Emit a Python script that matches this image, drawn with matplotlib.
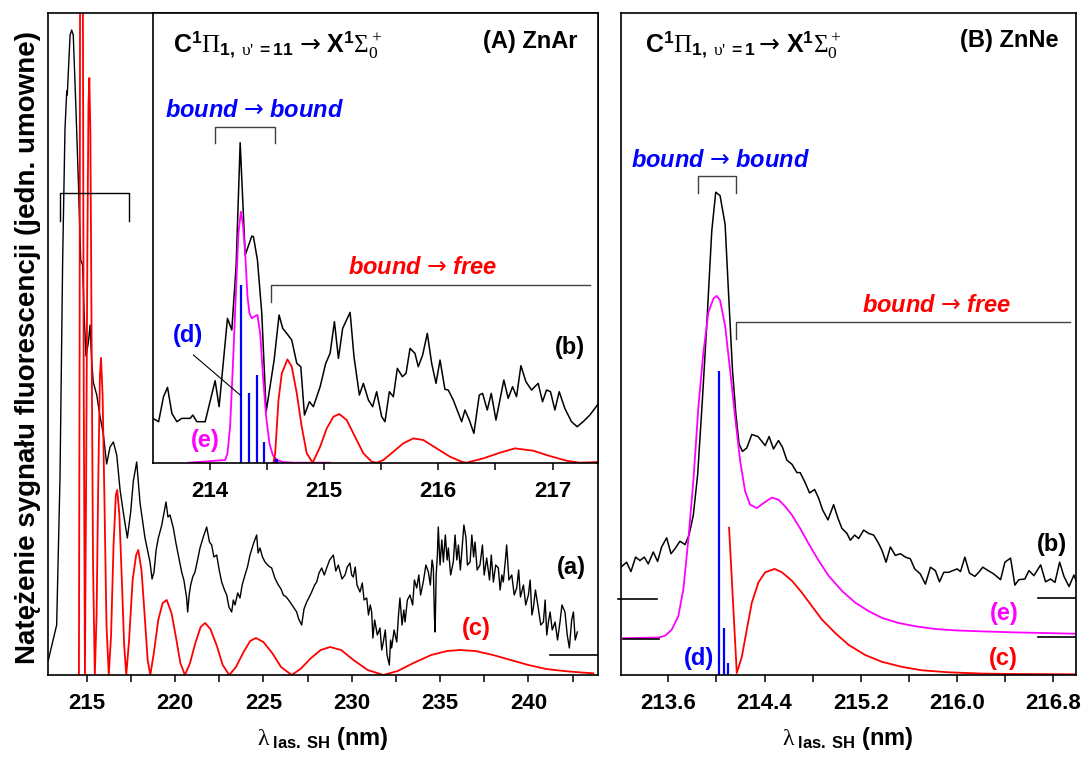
import matplotlib
matplotlib.use("Agg")
import matplotlib.pyplot as plt
from matplotlib.ticker import MultipleLocator, FormatStrFormatter

plt.rcParams['font.family'] = ['Liberation Sans', 'DejaVu Sans']
plt.rcParams['font.weight'] = 'bold'
plt.rcParams['axes.labelweight'] = 'bold'
plt.rcParams['mathtext.fontset'] = 'custom'
plt.rcParams['mathtext.rm'] = 'Liberation Serif:normal'
plt.rcParams['mathtext.it'] = 'Liberation Serif:italic:normal'
plt.rcParams['mathtext.bf'] = 'Liberation Sans:bold'
plt.rcParams['mathtext.sf'] = 'DejaVu Sans:normal'

#%% Data - panel (A) ZnAr, full range
a_wl = [212.83, 213.30, 213.49, 213.64, 213.77, 213.87, 213.90, 214.06, 214.15, 214.24,
        214.39, 214.53, 214.66, 214.77, 214.85, 214.96, 215.09, 215.19, 215.28, 215.37,
        215.57, 215.75, 215.94, 216.13, 216.32, 216.51, 216.70, 216.89, 217.07, 217.30,
        217.49, 217.64, 217.83, 218.02, 218.30,
        218.583, 218.70, 218.809, 218.93, 219.055, 219.25, 219.489, 219.60, 219.715, 219.904,
        220.05, 220.187, 220.375, 220.50, 220.658, 220.715, 220.80, 220.885, 221.00, 221.130,
        221.30, 221.413, 221.60, 221.791, 221.95, 222.074, 222.20, 222.357, 222.50, 222.640,
        222.80, 222.923, 223.05, 223.206, 223.30, 223.394, 223.55, 223.677, 223.80, 223.960,
        224.10, 224.243, 224.45, 224.621, 224.70, 224.809, 224.95, 225.092, 225.30, 225.470,
        225.65, 225.847, 226.00, 226.130, 226.30, 226.508, 226.70, 226.885, 227.00, 227.168,
        227.30, 227.451, 227.60, 227.734, 227.90, 228.017, 228.15, 228.300, 228.45, 228.583,
        228.75, 228.960, 229.10, 229.243, 229.45, 229.621, 229.75,
        229.90, 230.00, 230.09, 230.20, 230.30, 230.47, 230.60, 230.70, 230.85, 230.95,
        231.05, 231.13, 231.20, 231.30, 231.45, 231.60, 231.70, 231.79, 231.90, 232.00,
        232.13, 232.20, 232.26, 232.40, 232.55, 232.65, 232.73, 232.85, 232.95, 233.02,
        233.15, 233.30, 233.45, 233.55, 233.68, 233.80, 233.90, 234.05, 234.20, 234.34,
        234.45, 234.55, 234.62, 234.68, 234.72, 234.78, 234.85, 234.90, 235.00, 235.10,
        235.19, 235.30, 235.40, 235.47, 235.60, 235.75, 235.85, 235.95, 236.04, 236.15,
        236.23, 236.35, 236.47, 236.55, 236.70, 236.80, 236.90, 236.98, 237.10, 237.26,
        237.40, 237.50, 237.64, 237.80, 237.90, 238.02, 238.15, 238.30, 238.40, 238.50,
        238.58, 238.70, 238.77, 238.90, 239.06, 239.20, 239.34, 239.45, 239.55, 239.72,
        239.85, 240.00, 240.10, 240.20, 240.28, 240.40, 240.56, 240.70, 240.85, 240.95,
        241.04, 241.15, 241.23, 241.35, 241.51, 241.65, 241.79, 241.90, 242.07, 242.20,
        242.32, 242.45, 242.55, 242.65, 242.77]
a_int = [15, 50, 198, 415, 545, 584, 580, 640, 645, 640,
         567, 493, 415, 410, 363, 319, 332, 350, 315, 293,
         280, 259, 241, 211, 228, 233, 220, 185, 163, 137,
         163, 194, 213, 172, 137,
         113, 96, 103, 125, 137, 150, 173, 158, 160, 147,
         132, 120, 103, 95, 77, 63, 80, 90, 98, 103,
         117, 127, 138, 148, 133, 130, 118, 120, 105, 93,
         85, 80, 68, 63, 75, 70, 82, 77, 90, 100,
         108, 120, 132, 140, 122, 127, 118, 113, 109, 107,
         97, 90, 86, 80, 78, 73, 68, 63, 56, 50,
         66, 73, 78, 83, 90, 93, 102, 107, 100, 107,
         115, 120, 104, 110, 96, 100, 108,
         112, 100, 98, 108, 90, 83, 92, 75, 77, 60,
         70, 63, 37, 55, 40, 47, 25, 33, 45, 20,
         10, 35, 27, 45, 33, 60, 77, 50, 65, 53,
         75, 80, 70, 95, 87, 100, 80, 93, 110, 103,
         90, 115, 107, 60, 43, 100, 120, 148, 110, 135,
         113, 140, 115, 127, 100, 113, 140, 115, 130, 105,
         123, 150, 137, 110, 113, 140, 118, 133, 105, 110,
         130, 100, 117, 95, 120, 93, 110, 107, 85, 100,
         93, 115, 130, 95, 100, 80, 87, 105, 78, 90,
         70, 80, 95, 60, 67, 85, 67, 50, 53, 75,
         40, 55, 63, 45, 53, 35, 53, 70, 63, 40,
         27, 55, 63, 35, 43]

c_wl = [214.56, 214.60, 214.64, 214.68, 214.72, 214.77, 214.83, 214.90,
        214.97, 215.04, 215.10, 215.15, 215.21, 215.28, 215.36, 215.46,
        215.56, 215.66, 215.75, 215.81, 215.90, 216.00, 216.12, 216.25,
        216.38, 216.52, 216.65, 216.73, 216.85, 217.00, 217.12, 217.24,
        217.40, 217.60, 217.80, 217.92, 218.10, 218.30, 218.45, 218.60,
        218.80, 219.05, 219.30, 219.53, 219.80, 220.05, 220.30, 220.56,
        220.85, 221.15, 221.45, 221.70, 222.00, 222.35, 222.70, 223.07,
        223.45, 223.85, 224.25, 224.58, 225.00, 225.50, 226.00, 226.60,
        227.10, 227.70, 228.25, 228.77, 229.40, 230.10, 230.90, 231.79,
        232.60, 233.50, 234.50, 235.40, 236.13, 237.00, 238.00, 239.00,
        240.00, 241.00, 242.00, 243.00, 243.68]
c_int = [0, 330, 900, 1270, 1150, 800, 300, 0,
         200, 430, 570, 597, 540, 330, 110, 0,
         60, 200, 300, 317, 280, 180, 50, 0,
         40, 130, 180, 185, 160, 90, 30, 0,
         35, 95, 120, 125, 105, 55, 15, 0,
         22, 55, 72, 75, 62, 38, 12, 0,
         12, 32, 48, 52, 46, 30, 10, 0,
         8, 22, 34, 37, 33, 22, 8, 0,
         6, 17, 25, 28, 25, 15, 5, 0,
         4, 12, 20, 24, 25, 24, 20, 15,
         10, 6, 4, 2.5, 1.7]

#%% Data - inset of panel (A), zoom 213.5 - 217.4 nm
b_wl = [213.505, 213.555, 213.598, 213.633, 213.671, 213.715, 213.758, 213.831, 213.854, 213.889,
        213.962, 214.049, 214.084, 214.157, 214.195, 214.233, 214.268, 214.312, 214.370, 214.384,
        214.419, 214.457, 214.495, 214.565, 214.608, 214.640, 214.675, 214.719, 214.763, 214.798,
        214.830, 214.873, 214.908, 214.967, 215.016, 215.054, 215.092, 215.127, 215.164, 215.229,
        215.263, 215.310, 215.345, 215.389, 215.426, 215.461, 215.505, 215.534, 215.572, 215.607,
        215.642, 215.686, 215.718, 215.753, 215.796, 215.825, 215.863, 215.904, 215.942, 215.980,
        216.015, 216.058, 216.087, 216.131, 216.204, 216.233, 216.271, 216.311, 216.358, 216.387,
        216.428, 216.463, 216.504, 216.573, 216.611, 216.649, 216.684, 216.722, 216.766, 216.815,
        216.873, 216.911, 216.946, 216.981, 217.019, 217.057, 217.106, 217.164, 217.214, 217.266,
        217.325, 217.397]
b_int = [133, 123, 198, 226, 148, 123, 133, 133, 143, 123,
         123, 246, 168, 433, 398, 593, 960, 623, 680, 678,
         608, 448, 153, 308, 443, 403, 388, 368, 298, 288,
         143, 183, 168, 228, 298, 328, 423, 313, 403, 451,
         318, 203, 238, 188, 168, 213, 138, 123, 213, 198,
         283, 258, 268, 343, 328, 288, 323, 388, 298, 238,
         308, 220, 218, 188, 123, 158, 128, 88, 203, 208,
         158, 208, 128, 248, 193, 228, 198, 291, 243, 218,
         238, 183, 218, 213, 158, 213, 163, 123, 108, 123,
         143, 176]

e_wl = [213.817, 214.137, 214.157, 214.180, 214.204, 214.233, 214.253, 214.274, 214.291, 214.312,
        214.332, 214.349, 214.370, 214.399, 214.419, 214.443, 214.466, 214.495, 214.524, 214.553,
        214.588, 214.646, 214.734, 215.054]
e_int = [0, 8, 28, 108, 288, 528, 688, 753, 718, 628,
         498, 448, 433, 440, 443, 388, 268, 138, 58, 23,
         8, 2, 0, 0]

d_wl = [214.274, 214.349, 214.416, 214.480, 214.574, 214.591]
d_int = [533, 208, 263, 63, 15, 10]

ci_wl = [214.559, 214.574, 214.603, 214.632, 214.681, 214.719, 214.763, 214.806, 214.850, 214.902,
         214.967, 215.025, 215.083, 215.135, 215.199, 215.272, 215.345, 215.418, 215.461,
         215.520, 215.607, 215.694, 215.782, 215.869, 215.985, 216.102, 216.204, 216.247,
         216.393, 216.539, 216.670, 216.830, 216.975, 217.121, 217.237, 217.397]
ci_int = [0, 28, 188, 268, 310, 288, 208, 108, 28, 0,
          48, 103, 138, 146, 128, 78, 28, 3, 0,
          8, 33, 58, 73, 68, 43, 18, 3, 0,
          13, 30, 43, 36, 20, 6, 0, 2]

#%% Data - panel (B) ZnNe
bB_wl = [213.206, 213.253, 213.289, 213.328, 213.364, 213.400, 213.433, 213.475, 213.511, 213.544,
         213.586, 213.622, 213.656, 213.697, 213.739, 213.772, 213.808, 213.844, 213.883, 213.919,
         213.961, 213.994, 214.030, 214.072, 214.100, 214.133, 214.161, 214.188, 214.216, 214.252,
         214.294, 214.344, 214.377, 214.405, 214.438, 214.474, 214.516, 214.549, 214.585, 214.627,
         214.669, 214.696, 214.738, 214.774, 214.816, 214.849, 214.882, 214.927, 214.974, 215.010,
         215.043, 215.085, 215.113, 215.149, 215.182, 215.224, 215.265, 215.307, 215.349, 215.376,
         215.410, 215.446, 215.487, 215.529, 215.571, 215.612, 215.648, 215.695, 215.737, 215.779,
         215.820, 215.854, 215.890, 215.931, 215.965, 216.001, 216.029, 216.065, 216.103, 216.148,
         216.181, 216.214, 216.259, 216.306, 216.362, 216.398, 216.445, 216.481, 216.514, 216.564,
         216.598, 216.639, 216.695, 216.736, 216.778, 216.814, 216.853, 216.889, 216.931, 216.972,
         217.000]
bB_int = [107.8, 112.8, 103.4, 117.9, 114.5, 117.9, 111.1, 123.0, 113.5, 128.0,
          137.2, 121.3, 126.4, 133.8, 130.4, 139.9, 160.1, 200.7, 275.0, 349.3,
          443.9, 482.8, 479.4, 450.7, 383.1, 305.4, 261.5, 231.1, 223.6, 227.0,
          240.5, 238.5, 233.8, 229.4, 238.5, 226.0, 234.5, 227.7, 214.9, 210.8,
          202.4, 202.4, 192.2, 182.1, 185.5, 177.0, 165.2, 155.1, 170.3, 156.8,
          146.6, 141.6, 134.8, 139.9, 136.5, 144.9, 141.6, 139.9, 131.4, 124.7,
          112.8, 128.0, 119.6, 121.3, 117.9, 116.2, 106.1, 101.0, 90.9, 107.8,
          104.4, 93.2, 102.7, 102.7, 104.4, 106.1, 103.4, 117.9, 102.0, 98.6,
          102.7, 107.8, 104.4, 101.0, 95.3, 112.8, 116.9, 89.9, 95.3, 96.0,
          104.4, 99.3, 110.1, 93.2, 96.0, 92.6, 112.8, 98.6, 88.5, 100.0,
          90.9]

eB_wl = [213.225, 213.517, 213.572, 213.628, 213.683, 213.725, 213.767, 213.808, 213.850, 213.891,
         213.933, 213.975, 214.002, 214.030, 214.072, 214.113, 214.155, 214.197, 214.238, 214.280,
         214.336, 214.391, 214.460, 214.516, 214.571, 214.627, 214.696, 214.766, 214.849, 214.932,
         215.043, 215.154, 215.265, 215.376, 215.515, 215.654, 215.820, 215.987, 216.209, 216.487,
         216.764, 217.000]
eB_int = [36.8, 37.5, 39.2, 45.3, 58.8, 85.8, 136.5, 193.9, 268.2, 322.3,
          362.8, 376.4, 379.1, 374.7, 349.3, 305.4, 258.1, 214.2, 183.8, 170.3,
          166.9, 171.9, 177.4, 175.3, 168.6, 160.1, 146.6, 131.4, 114.5, 99.3,
          84.1, 72.3, 63.9, 57.1, 52.0, 48.7, 46.0, 44.6, 43.6, 42.6,
          41.9, 41.2]

cB_wl = [214.105, 214.169, 214.211, 214.252, 214.294, 214.349, 214.405, 214.483, 214.544, 214.627,
         214.710, 214.793, 214.877, 214.988, 215.099, 215.238, 215.376, 215.543, 215.709, 215.931,
         216.209, 216.486, 217.000]
cB_int = [147.3, 2.0, 18.2, 45.3, 72.3, 92.6, 102.7, 106.1, 102.7, 94.3,
          82.4, 68.9, 55.4, 41.9, 30.1, 19.9, 13.2, 8.1, 4.7, 2.7,
          1.4, 1.0, 0.7]

dB_wl = [214.020, 214.066, 214.093]
dB_int = [304, 47, 12]

#%% Figure
fig = plt.figure(figsize=(10.85, 7.6), dpi=100)

RED = '#FF0000'
MAG = '#FF00FF'
BLUE = '#0000FF'
BR = '#404040'
lab_fs = 17


def style_axis(ax, major, minor, fmt=None):
    ax.xaxis.set_major_locator(MultipleLocator(major))
    ax.xaxis.set_minor_locator(MultipleLocator(minor))
    if fmt:
        ax.xaxis.set_major_formatter(FormatStrFormatter(fmt))
    ax.tick_params(axis='x', which='both', direction='out', length=5, width=1.1,
                   labelsize=16, pad=8, top=False)
    ax.tick_params(axis='y', which='both', left=False, right=False, labelleft=False)
    for lbl in ax.get_xticklabels():
        lbl.set_fontweight('bold')
    for s in ax.spines.values():
        s.set_linewidth(1.2)


xlab = r'$\mathrm{\lambda}_{\ \mathbf{las.\ SH}}$ (nm)'
titA = (r"$\mathbf{C}^{\mathbf{1}}\Pi_{\mathbf{1,}\ \mathrm{\upsilon}\text{'}\mathbf{\ =11}}"
        r"\,\mathsf{\rightarrow}\,\mathbf{X}^{\mathbf{1}}\Sigma_0^+$")
titB = (r"$\mathbf{C}^{\mathbf{1}}\Pi_{\mathbf{1,}\ \mathrm{\upsilon}\text{'}\mathbf{\ =1}}"
        r"\mathsf{\rightarrow}\,\mathbf{X}^{\mathbf{1}}\Sigma_0^+$")
bb = r'bound$\,\mathsf{\rightarrow}\,$bound'
bf = r'bound$\,\mathsf{\rightarrow}\,$free'

# Panel A main
axA = fig.add_axes([0.04424, 0.11184, 0.5069, 0.87105])
axA.plot(a_wl, a_int, color='black', lw=1.0)
axA.plot(c_wl, c_int, color=RED, lw=1.3)
axA.plot([213.49, 213.49, 217.41, 217.41], [454, 482, 482, 454], color='black', lw=1.0)
axA.plot([241.22, 243.9], [20, 20], color='black', lw=1.2)
axA.text(242.45, 108, '(a)', fontsize=lab_fs, ha='center', va='center')
axA.text(237.07, 47, '(c)', fontsize=lab_fs, ha='center', va='center', color=RED)
axA.set_xlim(212.81, 243.94)
axA.set_ylim(0, 662)
style_axis(axA, 5, 2.5)
axA.set_xlabel(xlab, fontsize=17, fontweight='bold', labelpad=8)

# Inset of panel A
axI = fig.add_axes([0.14101, 0.39118, 0.41014, 0.5917])
axI.set_facecolor('white')
axI.plot(b_wl, b_int, color='black', lw=1.1)
axI.plot(e_wl, e_int, color=MAG, lw=1.3)
axI.vlines(d_wl, 0, d_int, color=BLUE, lw=1.6)
axI.plot(ci_wl, ci_int, color=RED, lw=1.3)
axI.plot([213.860, 214.268], [323, 203], color='black', lw=0.8)
axI.plot([214.049, 214.049, 214.574, 214.574], [958, 1006, 1006, 958], color=BR, lw=1.0)
axI.plot([214.536, 214.536, 217.325], [483, 533, 533], color=BR, lw=1.0)
axI.text(214.596, 1253, titA, fontsize=18, ha='center', va='center')
axI.text(216.80, 1265, '(A) ZnAr', fontsize=17, ha='center', va='center')
axI.text(214.392, 1058, bb, fontsize=17, ha='center', va='center',
         color=BLUE, style='italic')
axI.text(215.866, 587, bf, fontsize=17, ha='center', va='center',
         color=RED, style='italic')
axI.text(213.814, 383, '(d)', fontsize=lab_fs, ha='center', va='center', color=BLUE)
axI.text(213.962, 68, '(e)', fontsize=lab_fs, ha='center', va='center', color=MAG)
axI.text(217.150, 347, '(b)', fontsize=lab_fs, ha='center', va='center')
axI.set_xlim(213.506, 217.396)
axI.set_ylim(0, 1349)
style_axis(axI, 1, 0.5)

# Panel B
axB = fig.add_axes([0.57207, 0.11184, 0.41963, 0.87105])
axB.plot(bB_wl, bB_int, color='black', lw=1.1)
axB.plot(eB_wl, eB_int, color=MAG, lw=1.3)
axB.plot(cB_wl, cB_int, color=RED, lw=1.3)
axB.vlines(dB_wl, 0, dB_int, color=BLUE, lw=1.6)
axB.plot([213.18, 213.503], [76.5, 76.5], color='black', lw=1.2, clip_on=False)
axB.plot([213.223, 213.523], [36.5, 36.5], color='black', lw=1.2)
axB.plot([216.676, 216.99], [77, 77], color='black', lw=1.2)
axB.plot([216.676, 216.99], [38.5, 38.5], color='black', lw=1.2)
axB.plot([213.850, 213.850, 214.161, 214.161], [482, 499, 499, 482], color=BR, lw=1.0)
axB.plot([214.161, 214.161, 216.936], [336, 353, 353], color=BR, lw=1.0)
axB.text(214.221, 630, titB, fontsize=18, ha='center', va='center')
axB.text(216.432, 635, '(B) ZnNe', fontsize=17, ha='center', va='center')
axB.text(214.036, 515, bb, fontsize=17, ha='center', va='center',
         color=BLUE, style='italic')
axB.text(215.833, 370, bf, fontsize=17, ha='center', va='center',
         color=RED, style='italic')
axB.text(216.785, 131, '(b)', fontsize=lab_fs, ha='center', va='center')
axB.text(216.391, 62, '(e)', fontsize=lab_fs, ha='center', va='center', color=MAG)
axB.text(216.386, 17, '(c)', fontsize=lab_fs, ha='center', va='center', color=RED)
axB.text(213.859, 17, '(d)', fontsize=lab_fs, ha='center', va='center', color=BLUE)
axB.set_xlim(213.204, 216.989)
axB.set_ylim(0, 662)
style_axis(axB, 0.8, 0.4, '%.1f')
axB.set_xlabel(xlab, fontsize=17, fontweight='bold', labelpad=8)

fig.text(0.0258, 0.543, 'Natężenie sygnału fluorescencji (jedn. umowne)', rotation=90,
         ha='center', va='center', fontsize=20, fontweight='bold')

plt.savefig('out.png', dpi=100)
